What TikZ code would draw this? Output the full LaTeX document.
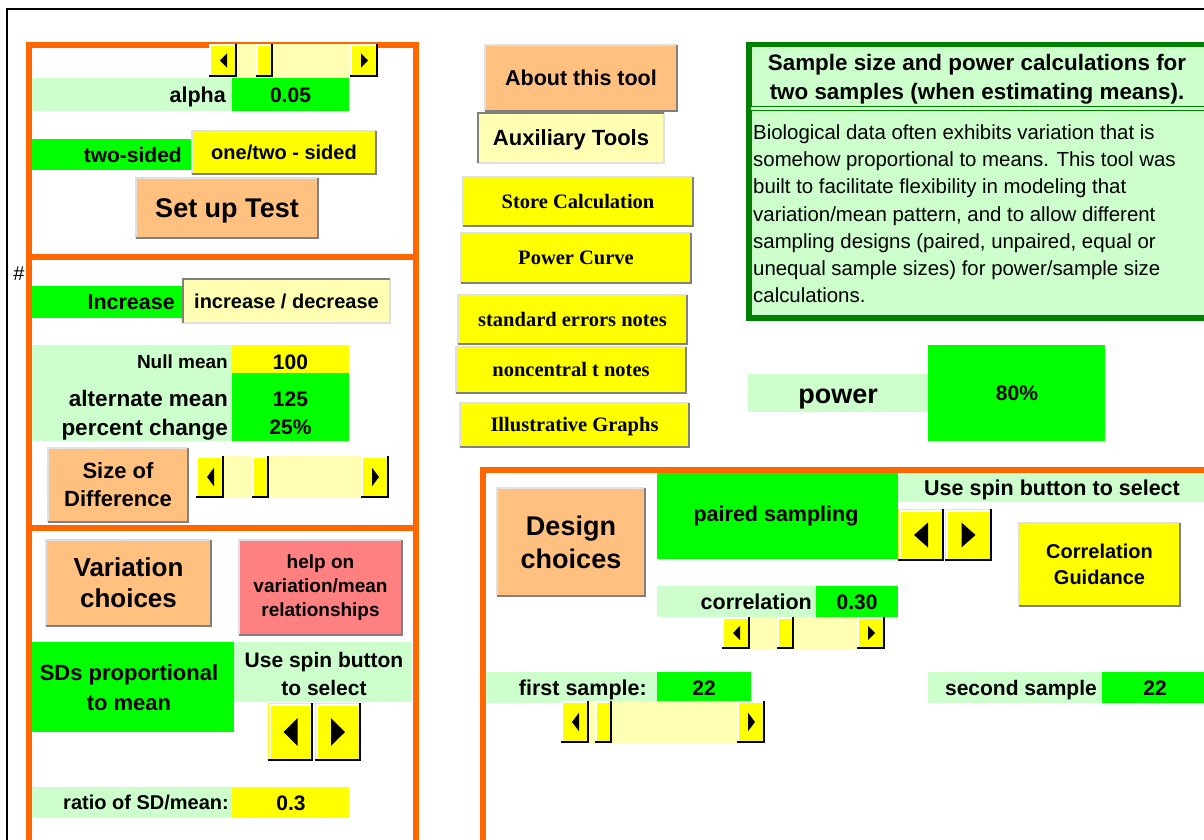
\documentclass[tikz,border=0pt]{standalone}
\usepackage{fontspec}
\setmainfont{Liberation Sans}
\newfontfamily\serifbtnfont{Liberation Serif}
\definecolor{panelorange}{RGB}{255,102,0}
\definecolor{lightgreen}{RGB}{204,255,204}
\definecolor{cellgreen}{RGB}{0,255,0}
\definecolor{cellyellow}{RGB}{255,255,0}
\definecolor{btnorange}{RGB}{255,192,128}
\definecolor{btnred}{RGB}{255,128,128}
\definecolor{boxgreen}{RGB}{0,128,0}
\definecolor{hatchyellow}{RGB}{255,255,180}
\definecolor{bevellight}{RGB}{224,224,224}
\definecolor{beveldark}{RGB}{128,128,128}
\begin{document}
\begin{tikzpicture}[x=1pt,y=-1pt,
  fs/.style={font=\bfseries\fontsize{#1}{#1}\selectfont, text height={0.72*#1}, text depth=0pt},
  txt/.style={inner sep=0pt, fs=21},
  lines/.style={inner sep=0pt, align=center, font=\bfseries\fontsize{21}{27}\selectfont},
  btn/.style={inner sep=0pt, align=center, font=\bfseries\fontsize{21}{25}\selectfont},
  serifbtn/.style={btn, fill=cellyellow, font=\serifbtnfont\bfseries\fontsize{20.5}{25}\selectfont, text height=13.6, text depth=0pt},
  panel/.style={draw=panelorange, line width=6pt}]
\useasboundingbox (0,0) rectangle (1204,840);
\draw[line width=2pt] (7,845) |- (1210,9);
\node[inner sep=0pt, font=\fontsize{20}{20}\selectfont] (hash) at (19,274) {\#};

% left column: test set up
\fill[lightgreen] (32,78) rectangle (232,111);
\fill[cellgreen] (232,78) rectangle (349,111);
\node[txt, anchor=east, fs=21.5] (alpha) at (226,94.5) {alpha};
\node[txt] (alphaval) at (290.5,94.5) {0.05};
\fill[cellgreen] (32,139) rectangle (192,170);
\node[txt, anchor=east] (sidedval) at (182,154.5) {two-sided};
\node[btn, fill=cellyellow, minimum width=184, minimum height=43, fs=20] (sided) at (284,152.5) {one/two - sided};
\node[btn, fill=btnorange, minimum width=182, minimum height=60, fs=27] (setup) at (227,208) {Set up Test};

% left column: means
\fill[cellgreen] (32,286) rectangle (183,318);
\node[txt, anchor=east, fs=21.5] (incr) at (175,302) {Increase};
\node[btn, fill=hatchyellow, minimum width=207, minimum height=44, fs=20] (incdec) at (286.5,301) {increase / decrease};
\fill[lightgreen] (32,345) rectangle (232,441);
\fill[cellyellow] (232,345) rectangle (349,373);
\fill[cellgreen] (232,373) rectangle (349,441);
\node[txt, anchor=east, fs=19] (nullmean) at (228,362) {Null mean};
\node[txt, anchor=east, fs=22.5] (altmean) at (228,398.5) {alternate mean};
\node[txt, anchor=east, fs=22.5] (pctchange) at (228,427) {percent change};
\node[txt] (nullval) at (290.5,362) {100};
\node[txt] (altval) at (290.5,398.5) {125};
\node[txt] (pctval) at (290.5,427) {25\%};
\node[btn, fill=btnorange, minimum width=140, minimum height=74, font=\bfseries\fontsize{22}{28}\selectfont] (sizediff) at (118,485) {Size of\\Difference};

% left column: variation
\node[btn, fill=btnorange, minimum width=165, minimum height=86, font=\bfseries\fontsize{26}{31}\selectfont] (varch) at (128.5,583) {Variation\\choices};
\node[btn, fill=btnred, minimum width=163, minimum height=95, font=\bfseries\fontsize{19}{24}\selectfont] (helpvar) at (320.5,587.5) {help on\\variation/mean\\relationships};
\fill[cellgreen] (32,642) rectangle (234,732);
\node[lines, font=\bfseries\fontsize{22}{30}\selectfont] (sdprop) at (129,688) {SDs proportional\\to mean};
\fill[lightgreen] (234,642) rectangle (412,702);
\node[lines, font=\bfseries\fontsize{21}{28}\selectfont] (spinhint) at (324,674) {Use spin button\\to select};
\fill[lightgreen] (32,787) rectangle (232,818);
\fill[cellyellow] (232,787) rectangle (349,818);
\node[txt, anchor=east, fs=20] (ratio) at (229,802.5) {ratio of SD/mean:};
\node[txt] (ratioval) at (291,802.5) {0.3};

% middle column
\node[btn, fill=btnorange, minimum width=192, minimum height=66, fs=21.5] (about) at (581,78) {About this tool};
\node[btn, fill=hatchyellow, minimum width=186, minimum height=50, fs=22] (aux) at (571,138) {Auxiliary Tools};
\node[serifbtn, minimum width=230, minimum height=49] (store) at (578,201.5) {Store Calculation};
\node[serifbtn, minimum width=230, minimum height=50] (curve) at (576,258) {Power Curve};
\node[serifbtn, minimum width=229, minimum height=49] (sen) at (572.5,319.5) {standard errors notes};
\node[serifbtn, minimum width=230, minimum height=46] (nct) at (571,370) {noncentral t notes};
\node[serifbtn, minimum width=229, minimum height=44] (graphs) at (574.5,425) {Illustrative Graphs};

% right column
\draw[boxgreen, line width=5.5pt, fill=lightgreen] (749,44.5) rectangle (1212,318);
\draw[boxgreen, line width=1.3pt, double=lightgreen, double distance=2.5pt] (751,108.7) -- (1212,108.7);
\node[lines, font=\bfseries\fontsize{22.4}{29}\selectfont] (title) at (977,79.5) {Sample size and power calculations for\\two samples (when estimating means).};
\node[inner sep=0pt, anchor=north west, align=left, font=\fontsize{20.4}{27.2}\selectfont] (blurb) at (753,124.5) {Biological data often exhibits variation that is\\somehow proportional to means. This tool was\\built to facilitate flexibility in modeling that\\variation/mean pattern, and to allow different\\sampling designs (paired, unpaired, equal or\\unequal sample sizes) for power/sample size\\calculations.};
\fill[lightgreen] (748,374) rectangle (928,412);
\fill[cellgreen] (928,345) rectangle (1105,441);
\node[txt, fs=27] (power) at (838,393.5) {power};
\node[txt] (powerval) at (1017,393) {80\%};

% design choices
\node[btn, fill=btnorange, minimum width=148, minimum height=108, font=\bfseries\fontsize{27}{33}\selectfont] (design) at (571,542) {Design\\choices};
\fill[cellgreen] (657,473) rectangle (898,559);
\node[txt, fs=21.5] (paired) at (776,514) {paired sampling};
\fill[lightgreen] (898,473) rectangle (1210,502);
\node[txt, fs=21.5] (designhint) at (1052,487.5) {Use spin button to select};
\node[btn, fill=cellyellow, minimum width=161, minimum height=83, font=\bfseries\fontsize{20}{26}\selectfont] (corrguide) at (1099.5,564.5) {Correlation\\Guidance};
\fill[lightgreen] (657,586) rectangle (816,617);
\fill[cellgreen] (816,586) rectangle (898,617);
\node[txt, anchor=east, fs=21.5] (corr) at (812,601.5) {correlation};
\node[txt] (corrval) at (857,601.5) {0.30};
\fill[lightgreen] (486,672) rectangle (657,703);
\fill[cellgreen] (657,672) rectangle (751,703);
\node[txt, anchor=east, fs=21.5] (first) at (647,687.5) {first sample:};
\node[txt] (firstval) at (704,687.5) {22};
\fill[lightgreen] (928,672) rectangle (1102,703);
\fill[cellgreen] (1102,672) rectangle (1210,703);
\node[txt, anchor=east] (second) at (1097,687.5) {second sample};
\node[txt] (secondval) at (1155,687.5) {22};

% panels
\draw[panel] (29,845) |- (416,45) -- (416,845);
\draw[panel] (29,257) -- (416,257) (29,528) -- (416,528);
\draw[panel] (483,845) |- (1210,470);

% button bevels
\foreach \n in {about,store,curve,sen,nct,graphs,setup,sided,sizediff,varch,helpvar,design,corrguide} {
  \draw[bevellight, line width=2pt] (\n.south west) |- (\n.north east);
  \draw[beveldark, line width=2pt] (\n.south west) -| (\n.north east);
}
\foreach \n in {aux,incdec} {
  \draw[bevellight, line width=2pt] (\n.south west) -| (\n.north east);
  \draw[beveldark, line width=2pt] (\n.south west) |- (\n.north east);
}

% scroll bars
\foreach \xa/\xb/\ya/\yb/\th in {209/378/44/77/256, 196/389/456/498/252, 722/885/617/649/777, 561/765/701/743/595} {
  \pgfmathsetmacro\ym{(\ya+\yb)/2}
  \pgfmathsetmacro\tri{0.22*(\yb-\ya)}
  \fill[hatchyellow] (\xa,\ya) rectangle (\xb,\yb);
  \foreach \bx/\bw in {\xa/28, \th/17, \xb-28/28} {
    \fill[cellyellow] (\bx,\ya) rectangle (\bx+\bw,\yb);
    \draw[white, line width=1.5pt] (\bx+1,\yb-1) |- (\bx+\bw-1,\ya+1);
    \draw[line width=2pt] (\bx,\yb-1) -| (\bx+\bw-1,\ya);
  }
  \fill (\xa+11,\ym) -- (\xa+18,\ym-\tri) -- (\xa+18,\ym+\tri) -- cycle;
  \fill (\xb-10,\ym) -- (\xb-17,\ym-\tri) -- (\xb-17,\ym+\tri) -- cycle;
}

% spin buttons
\foreach \xa/\xb/\ya/\yb/\dir in {268/313/703/761/-1, 315/361/703/761/1, 898/944/509/561/-1, 945/992/509/561/1} {
  \pgfmathsetmacro\xm{(\xa+\xb)/2}
  \pgfmathsetmacro\ym{(\ya+\yb)/2}
  \pgfmathsetmacro\tri{0.24*(\yb-\ya)}
  \fill[cellyellow] (\xa,\ya) rectangle (\xb,\yb);
  \draw[white, line width=2pt] (\xa+2,\yb-2) |- (\xb-2,\ya+2);
  \draw[line width=2pt] (\xa,\yb-1) -| (\xb-1,\ya);
  \fill (\xm+7*\dir,\ym) -- (\xm-7*\dir,\ym-\tri) -- (\xm-7*\dir,\ym+\tri) -- cycle;
}
\end{tikzpicture}
\end{document}
